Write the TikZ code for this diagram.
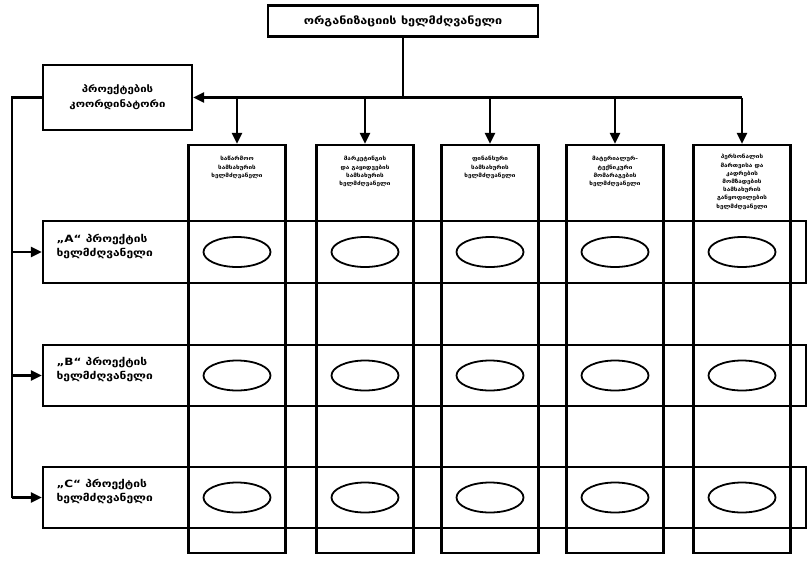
\documentclass[tikz,border=0pt]{standalone}
\usepackage{fontspec}
\newfontfamily\geo[FakeStretch=1.2]{DejaVu Sans}
\usetikzlibrary{arrows.meta,shapes.geometric}
\begin{document}
\begin{tikzpicture}[x=1pt,y=-1pt,
  box/.style={draw, line width=2.2pt, inner sep=0pt},
  link/.style={line width=2.2pt},
  arr/.style={link, -{Triangle[length=11pt,width=10pt]}},
  oval/.style={draw, ellipse, line width=1.8pt, minimum width=67pt, minimum height=30pt, inner sep=0pt},
  headtxt/.style={font=\geo\bfseries\fontsize{10.5}{14}\selectfont, align=center},
  crdtxt/.style={font=\geo\bfseries\fontsize{9.5}{15}\selectfont, align=center},
  rowtxt/.style={font=\geo\bfseries\fontsize{10}{14}\selectfont, align=left, anchor=west},
  coltxt/.style={font=\geo\bfseries\fontsize{5.3}{8.2}\selectfont, align=center, anchor=north}
]
\useasboundingbox (0,0) rectangle (808,560);

% head of the organisation and the project coordinator
\node[box, headtxt, minimum width=270pt, minimum height=31pt] (top) at (403,21) {ორგანიზაციის ხელმძღვანელი};
\node[box, crdtxt, minimum width=149pt, minimum height=65pt] (coord) at (117.5,97.5) {პროექტების\\კოორდინატორი};

% functional departments (columns)
\foreach \i/\x in {1/237,2/365,3/490,4/615,5/742}{
  \node[box, minimum width=97pt, minimum height=408pt] (col\i) at (\x,349) {};
}
\node[coltxt] (t1) at ([yshift=-9pt]col1.north) {საწარმოო\\სამსახურის\\ხელმძღვანელი};
\node[coltxt] (t2) at ([yshift=-9pt]col2.north) {მარკეტინგის\\და გაყიდვების\\სამსახურის\\ხელმძღვანელი};
\node[coltxt] (t3) at ([yshift=-9pt]col3.north) {ფინანსური\\სამსახურის\\ხელმძღვანელი};
\node[coltxt] (t4) at ([yshift=-9pt]col4.north) {მატერიალურ-\\ტექნიკური\\მომარაგების\\ხელმძღვანელი};
\node[coltxt] (t5) at ([yshift=-7pt]col5.north) {პერსონალის\\მართვისა და\\კადრების\\მომზადების\\სამსახურის\\განყოფილების\\ხელმძღვანელი};

% project managers (rows)
\node[box, minimum width=763pt, minimum height=62pt] (rowA) at (424.5,252) {};
\node[box, minimum width=763pt, minimum height=61pt] (rowB) at (424.5,375.5) {};
\node[box, minimum width=763pt, minimum height=61pt] (rowC) at (424.5,497.5) {};
\node[rowtxt] (lA) at (53,247) {„A“ პროექტის\\ხელმძღვანელი};
\node[rowtxt] (lB) at (53,370) {„B“ პროექტის\\ხელმძღვანელი};
\node[rowtxt] (lC) at (53,492) {„C“ პროექტის\\ხელმძღვანელი};

% cells of the matrix
\foreach \i in {1,...,5}{
  \foreach \r in {A,B,C}{
    \node[oval] (e\r\i) at (col\i |- row\r) {};
  }
}

% command bus from the head of the organisation
\coordinate (bus) at (top.south |- coord.east);
\coordinate (busend) at (col5.north |- coord.east);
\draw[link] (top.south) -- (bus);
\draw[arr] (busend) -- (coord.east);
\foreach \i in {1,...,5}{
  \draw[arr] (col\i.north |- coord.east) -- (col\i.north);
}

% coordinator to the project managers
\coordinate (lft) at (12,97.5);
\draw[link] (coord.west) -- (lft) -- (lft |- rowC.west);
\draw[arr] (lft |- rowA.west) -- (rowA.west);
\draw[arr] (lft |- rowB.west) -- (rowB.west);
\draw[arr] (lft |- rowC.west) -- (rowC.west);
\end{tikzpicture}
\end{document}
